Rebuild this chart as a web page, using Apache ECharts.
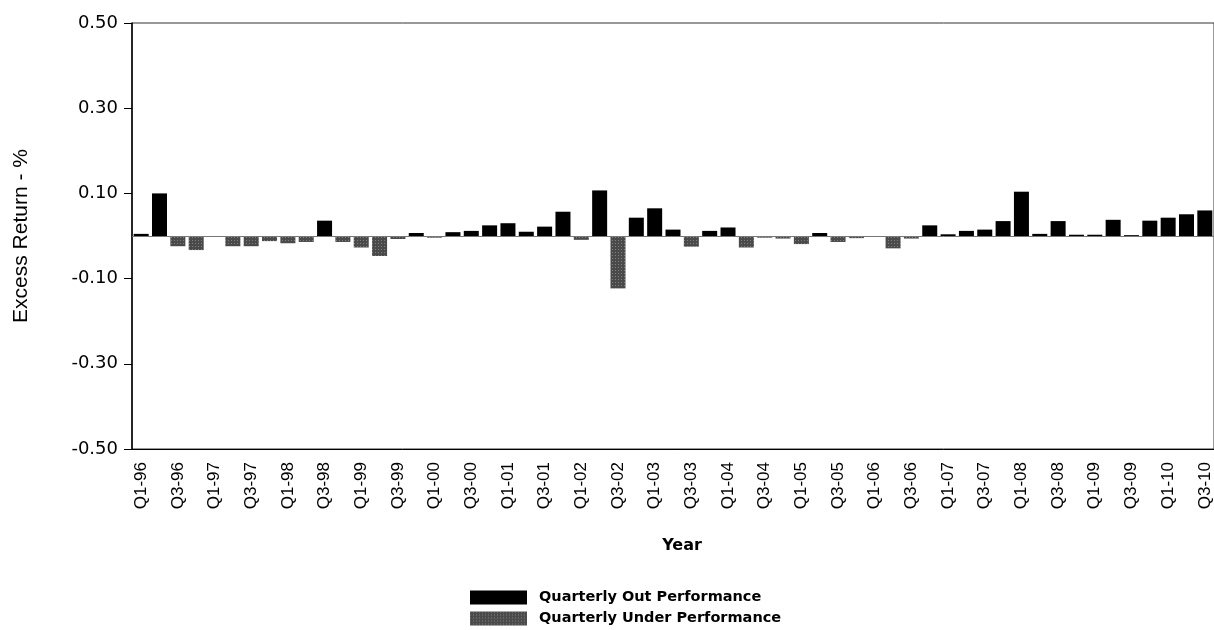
<!DOCTYPE html>
<html>
<head>
<meta charset="utf-8">
<script src="https://cdn.jsdelivr.net/npm/echarts@6/dist/echarts.min.js"></script>
<style>
html,body{margin:0;padding:0;background:#fff;}
#chart{width:1214px;height:630px;}
</style>
</head>
<body>
<div id="chart"></div>
<script>
var quarters = ['Q1-96','Q2-96','Q3-96','Q4-96','Q1-97','Q2-97','Q3-97','Q4-97','Q1-98','Q2-98','Q3-98','Q4-98',
  'Q1-99','Q2-99','Q3-99','Q4-99','Q1-00','Q2-00','Q3-00','Q4-00','Q1-01','Q2-01','Q3-01','Q4-01',
  'Q1-02','Q2-02','Q3-02','Q4-02','Q1-03','Q2-03','Q3-03','Q4-03','Q1-04','Q2-04','Q3-04','Q4-04',
  'Q1-05','Q2-05','Q3-05','Q4-05','Q1-06','Q2-06','Q3-06','Q4-06','Q1-07','Q2-07','Q3-07','Q4-07',
  'Q1-08','Q2-08','Q3-08','Q4-08','Q1-09','Q2-09','Q3-09','Q4-09','Q1-10','Q2-10','Q3-10'];

var excessReturn = [0.005,0.100,-0.024,-0.033,-0.002,-0.024,-0.024,-0.012,-0.017,-0.014,0.036,-0.014,
  -0.027,-0.047,-0.007,0.007,-0.004,0.009,0.012,0.025,0.030,0.010,0.022,0.057,
  -0.009,0.107,-0.123,0.043,0.065,0.015,-0.025,0.012,0.020,-0.027,-0.004,-0.006,
  -0.019,0.007,-0.014,-0.005,-0.002,-0.029,-0.006,0.025,0.004,0.012,0.015,0.035,
  0.104,0.005,0.035,0.003,0.003,0.038,0.002,0.036,0.043,0.051,0.060];

var yTicks = [-0.5,-0.3,-0.1,0.1,0.3,0.5];
var seriesNames = ['Quarterly Out Performance','Quarterly Under Performance'];

var outData = excessReturn.map(function(v){ return v >= 0 ? v : '-'; });
var underData = excessReturn.map(function(v){ return v < 0 ? v : '-'; });

var chart = echarts.init(document.getElementById('chart'), null, {renderer:'canvas'});
chart.setOption({
  animation:false,
  backgroundColor:'#fff',
  grid:{left:132, top:23, width:1084, height:426, show:true, borderColor:'#333', borderWidth:1, containLabel:false},
  legend:{
    left:470, top:590, orient:'vertical', itemWidth:57, itemHeight:14, itemGap:6, padding:0,
    icon:'rect',
    textStyle:{fontFamily:'DejaVu Sans', fontWeight:'bold', fontSize:14.5, color:'#000', padding:[0,0,0,7]},
    data:seriesNames
  },
  xAxis:{
    type:'category', data:quarters, boundaryGap:true,
    name:'Year', nameLocation:'middle', nameGap:89,
    nameTextStyle:{fontFamily:'DejaVu Sans', fontWeight:'bold', fontSize:16, color:'#000', padding:[0,0,0,18]},
    axisLine:{onZero:false, lineStyle:{color:'#000', width:1}},
    axisTick:{show:false},
    axisLabel:{interval:1, rotate:90, margin:13, color:'#000',
      fontFamily:"'Liberation Sans',Arial,sans-serif", fontSize:17}
  },
  yAxis:{
    type:'value', min:-0.5, max:0.5,
    name:'Excess Return - %', nameLocation:'middle', nameGap:100,
    nameTextStyle:{fontFamily:"'Liberation Sans',Arial,sans-serif", fontSize:21, color:'#000'},
    axisLine:{show:true, lineStyle:{color:'#000', width:1.5}},
    axisTick:{show:true, length:8, customValues:yTicks, lineStyle:{color:'#000'}},
    axisLabel:{customValues:yTicks, margin:14, color:'#000', fontFamily:'DejaVu Sans', fontSize:18,
      formatter:function(v){ return v.toFixed(2); }},
    splitLine:{show:false}
  },
  series:[
    {
      name:seriesNames[0], type:'bar', data:outData, barWidth:15, barGap:'-100%',
      itemStyle:{color:'#000'},
      markLine:{silent:true, symbol:'none', label:{show:false},
        lineStyle:{color:'#777', width:1, type:'solid'}, data:[{yAxis:0}]}
    },
    {
      name:seriesNames[1], type:'bar', data:underData, barWidth:15, barGap:'-100%',
      itemStyle:{color:'#4a4a4a',
        decal:{symbol:'rect', symbolSize:1, color:'rgba(255,255,255,0.3)', dashArrayX:[1,2], dashArrayY:[1,2], rotation:0}}
    }
  ]
});
</script>
</body>
</html>
